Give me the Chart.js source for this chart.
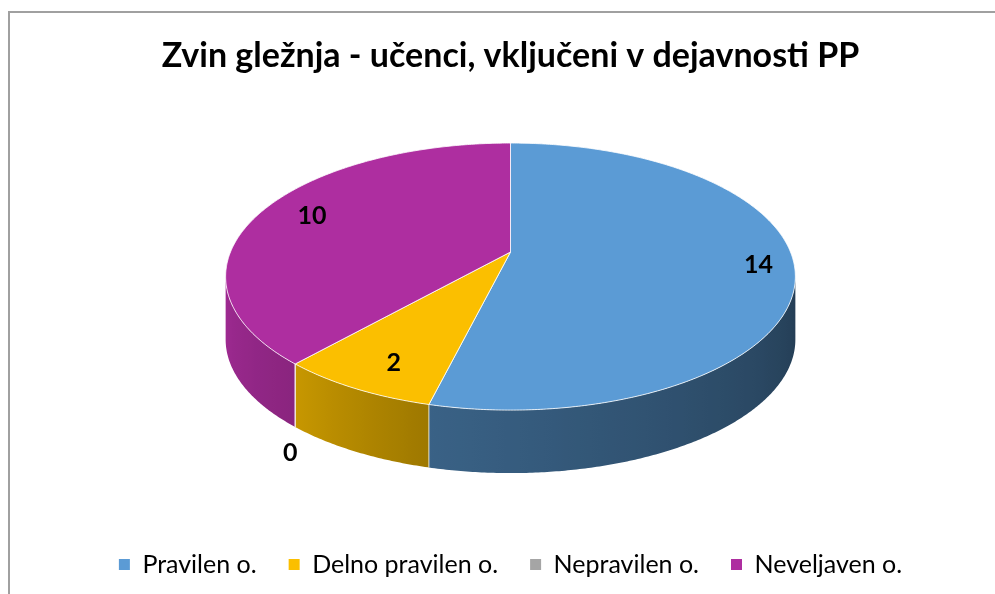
<!DOCTYPE html>
<html>
<head>
<meta charset="utf-8">
<script src="https://cdn.jsdelivr.net/npm/chart.js@4/dist/chart.umd.min.js"></script>
<style>
  html, body { margin: 0; padding: 0; background: #fff; }
  canvas { display: block; }
</style>
</head>
<body>
<canvas id="pieChart" width="995" height="594"></canvas>
<script>
const categories = ['Pravilen o.', 'Delno pravilen o.', 'Nepravilen o.', 'Neveljaven o.'];
const counts = [14, 2, 0, 10];
const sliceColors = ['#5B9BD5', '#FBBF00', '#A5A5A5', '#AE2EA0'];
const chartTitle = 'Zvin gležnja - učenci, vključeni v dejavnosti PP';

const FONT = "Lato, 'Open Sans', sans-serif";

// side shading by angle (deg from top, clockwise) -> brightness factor
const shadeStops = [[100, 0.39], [194, 0.63], [221, 0.79], [260, 0.92]];

function shadeAt(deg) {
  if (deg <= shadeStops[0][0]) return shadeStops[0][1];
  for (let i = 1; i < shadeStops.length; i++) {
    const [d1, f1] = shadeStops[i - 1];
    const [d2, f2] = shadeStops[i];
    if (deg <= d2) return f1 + (f2 - f1) * (deg - d1) / (d2 - d1);
  }
  return shadeStops[shadeStops.length - 1][1];
}

function darken(hex, f) {
  const n = parseInt(hex.slice(1), 16);
  const r = Math.round(((n >> 16) & 255) * f);
  const g = Math.round(((n >> 8) & 255) * f);
  const b = Math.round((n & 255) * f);
  return `rgb(${r},${g},${b})`;
}

const framePlugin = {
  id: 'frame',
  beforeDraw(chart) {
    const ctx = chart.ctx;
    ctx.save();
    ctx.strokeStyle = '#A0A0A0';
    ctx.lineWidth = 2;
    ctx.beginPath();
    ctx.moveTo(9, chart.height);
    ctx.lineTo(9, 12);
    ctx.lineTo(chart.width, 12);
    ctx.stroke();
    ctx.restore();
  }
};

// draws the pie arcs as a tilted disc with perspective
const pie3dPlugin = {
  id: 'pie3d',
  beforeDatasetsDraw(chart, args, opts) {
    const ctx = chart.ctx;
    const meta = chart.getDatasetMeta(0);
    const arcs = meta.data;
    if (!arcs.length) return false;

    const cx = arcs[0].x;
    const cy = opts.apexY;
    const A = opts.rx, B = opts.ry, p = opts.persp, depth = opts.depth;

    const proj = (phi, r) => {
      const x3 = r * Math.sin(phi), z3 = r * Math.cos(phi);
      const w = 1 / (1 + p * z3);
      return { x: cx + A * x3 * w, y: cy - B * z3 * w };
    };

    const phiR = Math.acos(-p);
    const phiL = 2 * Math.PI - phiR;
    const step = Math.PI / 360;
    const xR = proj(phiR, 1).x, xL = proj(phiL, 1).x;

    ctx.save();

    // sides (front part only), shaded with a horizontal gradient
    arcs.forEach((arc, i) => {
      const s = arc.startAngle + Math.PI / 2;
      const e = arc.endAngle + Math.PI / 2;
      const a = Math.max(s, phiR), b = Math.min(e, phiL);
      if (b <= a) return;
      const base = sliceColors[i];
      const grad = ctx.createLinearGradient(xL, 0, xR, 0);
      for (let t = phiR; t <= phiL + 1e-9; t += step * 4) {
        const x = proj(t, 1).x;
        const off = Math.min(1, Math.max(0, (x - xL) / (xR - xL)));
        grad.addColorStop(off, darken(base, shadeAt(t * 180 / Math.PI)));
      }
      ctx.beginPath();
      let q = proj(a, 1);
      ctx.moveTo(q.x, q.y);
      for (let t = a; t < b; t += step) {
        q = proj(t, 1);
        ctx.lineTo(q.x, q.y);
      }
      q = proj(b, 1);
      ctx.lineTo(q.x, q.y);
      for (let t = b; t > a; t -= step) {
        q = proj(t, 1);
        ctx.lineTo(q.x, q.y + depth);
      }
      q = proj(a, 1);
      ctx.lineTo(q.x, q.y + depth);
      ctx.closePath();
      ctx.fillStyle = grad;
      ctx.fill();
    });

    // edges between slices on the side
    ctx.strokeStyle = 'rgba(255,255,255,0.75)';
    ctx.lineWidth = 1;
    arcs.forEach((arc) => {
      const e = arc.endAngle + Math.PI / 2;
      if (e > phiR && e < phiL) {
        const q = proj(e, 1);
        ctx.beginPath();
        ctx.moveTo(q.x, q.y);
        ctx.lineTo(q.x, q.y + depth);
        ctx.stroke();
      }
    });

    // tops
    arcs.forEach((arc, i) => {
      const s = arc.startAngle + Math.PI / 2;
      const e = arc.endAngle + Math.PI / 2;
      if (e - s <= 0) return;
      const c = proj(0, 0);
      ctx.beginPath();
      ctx.moveTo(c.x, c.y);
      for (let t = s; t < e; t += step) {
        const q = proj(t, 1);
        ctx.lineTo(q.x, q.y);
      }
      const q = proj(e, 1);
      ctx.lineTo(q.x, q.y);
      ctx.closePath();
      ctx.fillStyle = sliceColors[i];
      ctx.fill();
      ctx.strokeStyle = 'rgba(255,255,255,0.8)';
      ctx.lineWidth = 1;
      ctx.stroke();
    });

    // value labels
    ctx.fillStyle = '#000';
    ctx.font = `bold ${opts.labelSize}px ${FONT}`;
    ctx.textAlign = 'center';
    ctx.textBaseline = 'middle';
    arcs.forEach((arc, i) => {
      const s = arc.startAngle + Math.PI / 2;
      const e = arc.endAngle + Math.PI / 2;
      const mid = (s + e) / 2;
      let q;
      if (counts[i] === 0) {
        q = proj(mid, 1);
        q = { x: q.x - 5, y: q.y + depth + 26 };
      } else {
        q = proj(mid, opts.labelR);
        q = { x: q.x + opts.labelDx, y: q.y };
      }
      ctx.fillText(String(counts[i]), q.x, q.y);
    });

    ctx.restore();
    return false;
  }
};

const chart = new Chart(document.getElementById('pieChart'), {
  type: 'pie',
  data: {
    labels: categories,
    datasets: [{
      data: counts,
      backgroundColor: sliceColors,
      borderWidth: 0
    }]
  },
  options: {
    responsive: false,
    devicePixelRatio: 1,
    animation: false,
    layout: { padding: { left: 26, right: 0, top: 0, bottom: 7 } },
    plugins: {
      title: {
        display: true,
        text: chartTitle,
        color: '#000',
        font: { family: FONT, size: 34, weight: 'bold' },
        padding: { top: 36, bottom: 10 }
      },
      legend: {
        position: 'bottom',
        labels: {
          color: '#000',
          font: { family: FONT, size: 25 },
          boxWidth: 11,
          boxHeight: 11,
          padding: 32
        }
      },
      tooltip: { enabled: false },
      pie3d: {
        apexY: 252,
        rx: 280,
        ry: 129,
        persp: 0.184,
        depth: 63,
        labelR: 0.84,
        labelDx: 10,
        labelSize: 25
      }
    }
  },
  plugins: [framePlugin, pie3dPlugin]
});
</script>
</body>
</html>
